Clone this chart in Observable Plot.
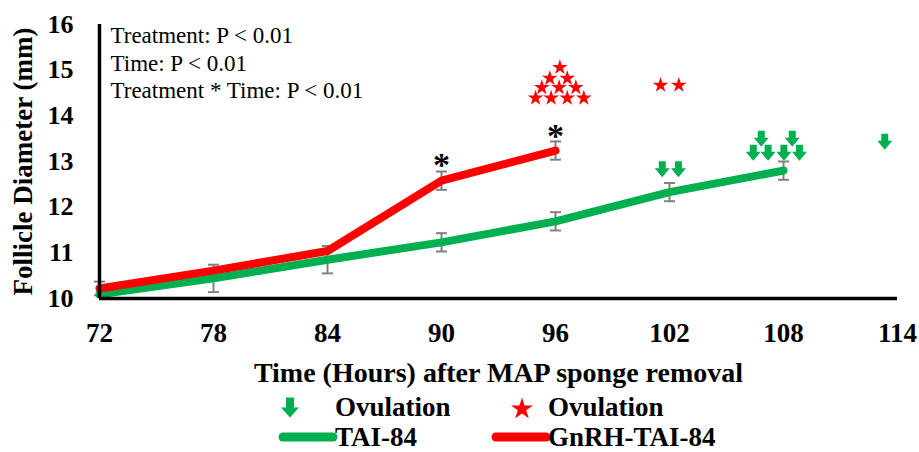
<!DOCTYPE html>
<html>
<head>
<meta charset="utf-8">
<script src="https://cdn.jsdelivr.net/npm/d3@7"></script>
<script src="https://cdn.jsdelivr.net/npm/@observablehq/plot@0.6"></script>
<style>
  html, body { margin: 0; padding: 0; background: #fff; }
  #wrap { position: relative; width: 919px; height: 452px; overflow: hidden; font-family: "Liberation Serif", "Times New Roman", serif; }
  #chart { position: absolute; left: 0; top: 0; }
  .lg { position: absolute; font-weight: bold; font-size: 27px; line-height: 24px; white-space: nowrap; color: #000; }
  .ic { position: absolute; }
</style>
</head>
<body>
<div id="wrap">
  <div id="chart"></div>
</div>
<script>
// ---- data ----
const hours = [72, 78, 84, 90, 96, 102, 108];
const taiMean = [10.09, 10.44, 10.85, 11.23, 11.69, 12.33, 12.80];
const taiSem  = [null, 0.30, 0.30, 0.20, 0.20, 0.20, 0.20];

const gnrhHours = [72, 78, 84, 90, 96];
const gnrhMean  = [10.22, 10.61, 11.04, 12.58, 13.24];
const gnrhSem   = [0.15, null, null, 0.20, 0.20];

// ovulation markers (hour, level)
const taiOvHours = [101.62, 102.47, 106.41, 107.19, 108.02, 108.84, 106.83, 108.46, 113.33];
const taiOvLevel = [12.83, 12.83, 13.19, 13.19, 13.19, 13.19, 13.50, 13.50, 13.43];
const gnrhOvHours = [96.23, 95.70, 96.62, 95.28, 96.19, 97.07, 94.95, 95.77, 96.62, 97.49, 101.53, 102.49];
const gnrhOvLevel = [15.06, 14.82, 14.82, 14.62, 14.62, 14.62, 14.39, 14.39, 14.39, 14.39, 14.67, 14.67];

// significance asterisks
const sigHours = [90, 96];
const sigLevel = [12.98, 13.63];

const statsText = ["Treatment: P < 0.01", "Time: P < 0.01", "Treatment * Time: P < 0.01"];
const xTicks = [72, 78, 84, 90, 96, 102, 108, 114];
const yTicks = [10, 11, 12, 13, 14, 15, 16];
const seriesNames = ["TAI-84", "GnRH-TAI-84"];
const ovulationLabel = "Ovulation";
const xTitle = "Time (Hours) after MAP sponge removal";
const yTitle = "Follicle Diameter (mm)";

// ---- build tables ----
const GREEN = "#00B050", RED = "#FF0000", GREY = "#808080";
const tai = hours.map((h, i) => ({h, v: taiMean[i], e: taiSem[i]}));
const gnrh = gnrhHours.map((h, i) => ({h, v: gnrhMean[i], e: gnrhSem[i]}));
const errs = [...tai, ...gnrh].filter(d => d.e != null);
const caps = errs.flatMap(d => [{h: d.h, v: d.v - d.e}, {h: d.h, v: d.v + d.e}]);
const taiOv = taiOvHours.map((h, i) => ({h, v: taiOvLevel[i]}));
const gnrhOv = gnrhOvHours.map((h, i) => ({h, v: gnrhOvLevel[i]}));
const sig = sigHours.map((h, i) => ({h, v: sigLevel[i]}));

const capSymbol = { draw(ctx) { ctx.moveTo(-5.5, 0); ctx.lineTo(5.5, 0); } };
const arrowSymbol = { draw(ctx) {
  ctx.moveTo(-3.5, -8); ctx.lineTo(3.5, -8); ctx.lineTo(3.5, -1); ctx.lineTo(7.5, -1);
  ctx.lineTo(0, 8); ctx.lineTo(-7.5, -1); ctx.lineTo(-3.5, -1); ctx.closePath();
} };

const chart = Plot.plot({
  width: 919,
  height: 395,
  marginLeft: 99,
  marginRight: 22,
  marginTop: 24,
  marginBottom: 97,
  style: { fontFamily: "'Liberation Serif', 'Times New Roman', serif", background: "#fff", color: "#000" },
  x: { domain: [72, 114] },
  y: { domain: [10, 16] },
  marks: [
    Plot.axisX({ticks: xTicks, tickSize: 0, tickPadding: 24, fontSize: 27, fontWeight: "bold",
      tickFormat: d3.format("d"), label: null}),
    Plot.axisY({ticks: yTicks, tickSize: 0, tickPadding: 26, fontSize: 26, fontWeight: "bold",
      tickFormat: d3.format("d"), label: null}),
    Plot.text([xTitle], {frameAnchor: "bottom", lineAnchor: "middle", textAnchor: "middle", dy: 75,
      fontSize: 28, fontWeight: "bold", fill: "#000"}),
    Plot.text([yTitle], {frameAnchor: "left", rotate: -90, textAnchor: "middle", lineAnchor: "middle", dx: -76,
      fontSize: 27, fontWeight: "bold", fill: "#000"}),
    Plot.ruleX(errs, {x: "h", y1: d => d.v - d.e, y2: d => d.v + d.e, stroke: GREY, strokeWidth: 2}),
    Plot.dot(caps, {x: "h", y: "v", symbol: capSymbol, stroke: GREY, strokeWidth: 2}),
    Plot.line(tai, {x: "h", y: "v", stroke: GREEN, strokeWidth: 8, strokeLinecap: "round", strokeLinejoin: "round"}),
    Plot.line(gnrh, {x: "h", y: "v", stroke: RED, strokeWidth: 8, strokeLinecap: "round", strokeLinejoin: "round"}),
    Plot.ruleX([72], {y1: 10, y2: 16, stroke: "#000", strokeWidth: 3.5}),
    Plot.ruleY([10], {x1: 72, x2: 114, stroke: "#000", strokeWidth: 3.5}),
    Plot.dot(taiOv, {x: "h", y: "v", symbol: arrowSymbol, fill: GREEN, stroke: null}),
    Plot.dot(gnrhOv, {x: "h", y: "v", symbol: "star", r: 4.9, fill: RED, stroke: null}),
    Plot.text(sig, {x: "h", y: "v", text: () => "*", fontSize: 34, fontWeight: "bold", dy: 3, fill: "#000"}),
    Plot.text([statsText.join("\n")], {frameAnchor: "top-left", dx: 11, dy: -1, textAnchor: "start",
      lineAnchor: "top", fontSize: 23, lineHeight: 1.2, fill: "#000"})
  ]
});
document.getElementById("chart").appendChild(chart);

// ---- legend (HTML below the plot area) ----
const wrap = document.getElementById("wrap");
function add(html) { wrap.insertAdjacentHTML("beforeend", html); }
add(`<svg class="ic" style="left:281px;top:397px" width="18" height="21" viewBox="-9 -10.5 18 21">
  <path d="M-4,-10 L4,-10 L4,0 L9,0 L0,10 L-9,0 L-4,0 Z" fill="${GREEN}"/></svg>`);
add(`<div class="lg" style="left:335px;top:395px">${ovulationLabel}</div>`);
add(`<svg class="ic" style="left:509px;top:396px" width="26" height="24" viewBox="-13 -12 26 24">
  <path d="${d3.symbol(d3.symbolStar, 150)()}" transform="translate(0,1)" fill="${RED}"/></svg>`);
add(`<div class="lg" style="left:548px;top:395px">${ovulationLabel}</div>`);
add(`<svg class="ic" style="left:278px;top:430px" width="60" height="14"><line x1="5" y1="7" x2="55" y2="7" stroke="${GREEN}" stroke-width="9" stroke-linecap="round"/></svg>`);
add(`<div class="lg" style="left:335px;top:425px">${seriesNames[0]}</div>`);
add(`<svg class="ic" style="left:491px;top:430px" width="60" height="14"><line x1="5" y1="7" x2="55" y2="7" stroke="${RED}" stroke-width="9" stroke-linecap="round"/></svg>`);
add(`<div class="lg" style="left:548px;top:425px">${seriesNames[1]}</div>`);
</script>
</body>
</html>
